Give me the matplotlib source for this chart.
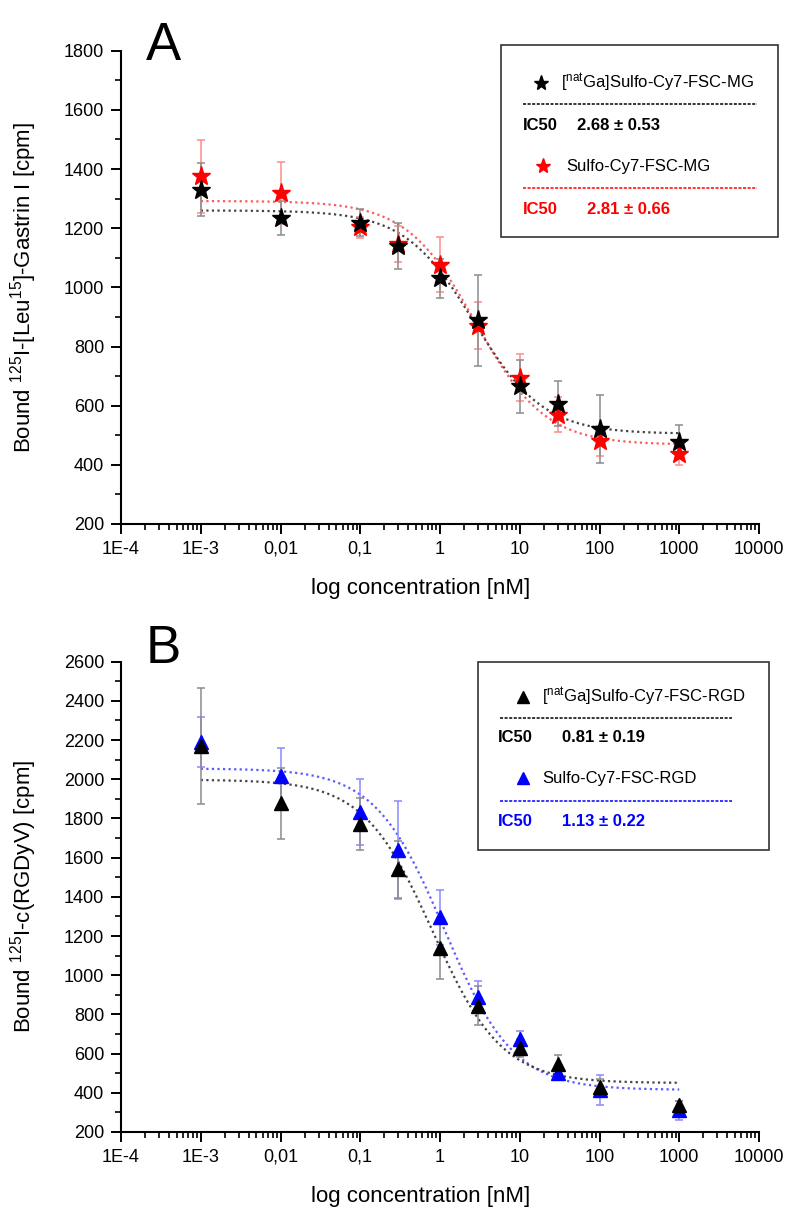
import numpy as np
import matplotlib.pyplot as plt
from matplotlib.ticker import MultipleLocator, LogLocator, NullFormatter
from matplotlib.patches import Rectangle

plt.rcParams['font.family'] = ['Liberation Sans', 'DejaVu Sans']
plt.rcParams['mathtext.default'] = 'regular'

# concentrations [nM]
conc = [1e-3, 0.01, 0.1, 0.3, 1, 3, 10, 30, 100, 1000]

# Panel A: gastrin binding
a_ga = [1330, 1235, 1219, 1140, 1031, 888, 665, 607, 522, 478]
a_ga_err = [90, 58, 46, 77, 66, 153, 90, 75, 115, 55]
a_free = [1375, 1320, 1203, 1146, 1076, 870, 695, 570, 480, 435]
a_free_err = [122, 105, 35, 60, 93, 80, 80, 60, 50, 35]

# Panel B: RGD binding
b_ga = [2169, 1877, 1771, 1540, 1137, 845, 630, 545, 430, 340]
b_ga_err = [295, 183, 132, 145, 157, 100, 45, 50, 40, 20]
b_free = [2191, 2016, 1834, 1639, 1295, 890, 675, 500, 415, 310]
b_free_err = [128, 142, 167, 248, 140, 80, 40, 30, 75, 50]

# fitted sigmoid parameters (top, bottom, IC50)
a_ga_fit = (1260, 505, 2.68)
a_free_fit = (1292, 468, 2.81)
b_ga_fit = (1998, 450, 0.81)
b_free_fit = (2055, 415, 1.13)

xtick_vals = [1e-4, 1e-3, 1e-2, 1e-1, 1, 10, 100, 1000, 10000]
xtick_labels = ['1E-4', '1E-3', '0,01', '0,1', '1', '10', '100', '1000', '10000']

W, H = 800, 1222


def fx(x):
    return x / W


def fy(y):
    return 1 - y / H


def sigmoid(c, top, bottom, ic50):
    return bottom + (top - bottom) / (1 + (c / ic50))


fig = plt.figure(figsize=(8, 12.22), dpi=100)
axA = fig.add_axes([fx(121), fy(524), 638 / W, (524 - 50.7) / H])
axB = fig.add_axes([fx(121), fy(1132), 638 / W, (1132 - 661.7) / H])

cfit = np.logspace(-3, 3, 300)


def draw_series(ax, y, err, fit, color, ecolor, lcolor, marker, ms):
    ax.plot(cfit, sigmoid(cfit, *fit), linestyle=(0, (1, 1.5)), color=lcolor, lw=1.6, zorder=2)
    ax.errorbar(conc, y, yerr=err, fmt='none', ecolor=ecolor, elinewidth=1.1,
                capsize=3, capthick=1.1, zorder=3)
    ax.plot(conc, y, linestyle='none', marker=marker, ms=ms, color=color,
            markeredgecolor=color, zorder=4)


draw_series(axA, a_free, a_free_err, a_free_fit, 'red', '#ff8a8a', '#ff5a5a', '*', 14)
draw_series(axA, a_ga, a_ga_err, a_ga_fit, 'black', '#8c8c8c', '#444444', '*', 14)
draw_series(axB, b_free, b_free_err, b_free_fit, 'blue', '#8a8aff', '#5a5aff', '^', 10)
draw_series(axB, b_ga, b_ga_err, b_ga_fit, 'black', '#8c8c8c', '#444444', '^', 10)

for ax, ymax, ylabel in [(axA, 1800, r'Bound $^{125}$I-[Leu$^{15}$]-Gastrin I [cpm]'),
                         (axB, 2600, r'Bound $^{125}$I-c(RGDyV) [cpm]')]:
    ax.set_xscale('log')
    ax.set_xlim(1e-4, 1e4)
    ax.set_ylim(200, ymax)
    ax.set_xticks(xtick_vals)
    ax.set_xticklabels(xtick_labels)
    ax.xaxis.set_minor_locator(LogLocator(base=10, subs=np.arange(2, 10)))
    ax.xaxis.set_minor_formatter(NullFormatter())
    ax.yaxis.set_major_locator(MultipleLocator(200))
    ax.yaxis.set_minor_locator(MultipleLocator(100))
    ax.spines['top'].set_visible(False)
    ax.spines['right'].set_visible(False)
    for s in ['left', 'bottom']:
        ax.spines[s].set_linewidth(1.5)
    ax.tick_params(which='major', direction='out', length=7, width=1.4, labelsize=13, pad=5)
    ax.tick_params(which='minor', direction='out', length=4, width=1.2)
    ax.set_xlabel('log concentration [nM]', fontsize=16)
    ax.set_ylabel(ylabel, fontsize=16)
    ax.xaxis.set_label_coords(0.47, -0.115)
    ax.yaxis.set_label_coords(-0.128, 0.5)

fig.text(fx(146), fy(60), 'A', fontsize=38, va='baseline', ha='left')
fig.text(fx(146), fy(663), 'B', fontsize=38, va='baseline', ha='left')


def legend_box(x0, y0, x1, y1):
    fig.patches.append(Rectangle((fx(x0), fy(y1)), (x1 - x0) / W, (y1 - y0) / H,
                                 transform=fig.transFigure, fill=False,
                                 edgecolor='#333333', lw=1.2))


def legend_entry(mx, my, tx, label, marker, ms, color, lx0, lx1, ly, icx, icv, icy, ictext):
    fig.lines.append(plt.Line2D([fx(mx)], [fy(my)], marker=marker, ms=ms, color=color,
                                linestyle='none', transform=fig.transFigure))
    fig.text(fx(tx), fy(my), label, fontsize=12, va='center', ha='left')
    fig.lines.append(plt.Line2D([fx(lx0), fx(lx1)], [fy(ly), fy(ly)], color=color,
                                linestyle=(0, (2, 1)), lw=1.1, transform=fig.transFigure))
    fig.text(fx(icx), fy(icy), 'IC50', fontsize=12, fontweight='bold', color=color,
             va='center', ha='left')
    fig.text(fx(icv), fy(icy), ictext, fontsize=12, fontweight='bold', color=color,
             va='center', ha='left')


legend_box(501, 45, 778, 237)
legend_entry(541, 83, 561, r'[$^{nat}$Ga]Sulfo-Cy7-FSC-MG', '*', 11, 'black',
             523, 757, 104, 523, 577, 126, '2.68 ± 0.53')
legend_entry(543, 166, 566, 'Sulfo-Cy7-FSC-MG', '*', 11, 'red',
             523, 757, 188, 523, 587, 209, '2.81 ± 0.66')

legend_box(478, 662, 769, 850)
legend_entry(523, 697, 542, r'[$^{nat}$Ga]Sulfo-Cy7-FSC-RGD', '^', 8, 'black',
             500, 732, 718, 498, 562, 738, '0.81 ± 0.19')
legend_entry(523, 778, 542, 'Sulfo-Cy7-FSC-RGD', '^', 8, 'blue',
             500, 732, 801, 498, 562, 822, '1.13 ± 0.22')

fig.savefig('out.png', dpi=100)
